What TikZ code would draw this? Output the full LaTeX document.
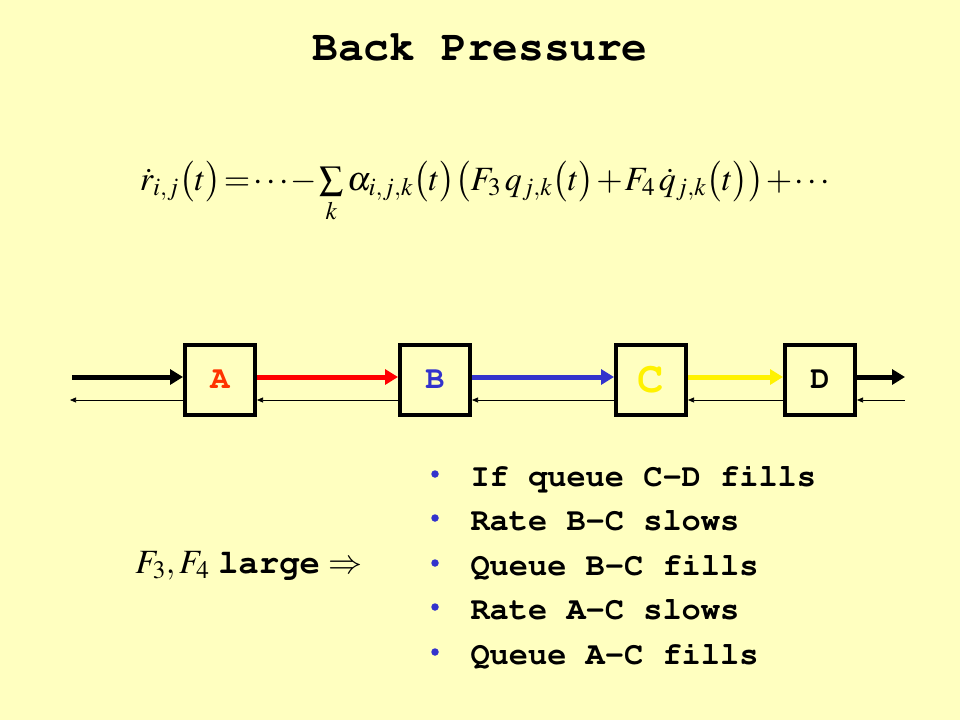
\documentclass[tikz,border=0pt]{standalone}
\usepackage{mathptmx}
\usepackage[no-math]{fontspec}
\setmainfont{Liberation Serif}
\setmonofont{Liberation Mono}
\usetikzlibrary{arrows.meta}
\definecolor{bgyellow}{RGB}{255,255,192}
\definecolor{labred}{RGB}{255,51,0}
\definecolor{labblue}{RGB}{51,51,204}
\definecolor{arrblue}{RGB}{51,51,204}
\newcommand{\courierbold}{\fontencoding{OT1}\fontfamily{pcr}\fontseries{b}\selectfont}
\begin{document}
\begin{tikzpicture}[
		x=1pt, y=-1pt,
		% Okvirji za vozlisca in puscice med njimi
		stagebox/.style={draw, line width=4pt, minimum size=70pt, inner sep=0pt,
			font=\fontsize{32}{32}\courierbold},
		flow/.style={line width=5pt, -{Triangle[length=13pt,width=15pt]}},
		backflow/.style={line width=0.7pt, -{Triangle[length=6pt,width=5pt]}},
		bulletdot/.style={circle, fill=arrblue, minimum size=7.5pt, inner sep=0pt},
		bullettext/.style={anchor=base west, font=\fontsize{32}{34}\courierbold}
		]
		\fill[bgyellow] (0,0) rectangle (960,720);
		\useasboundingbox (0,0) rectangle (960,720);
		\node[font=\fontsize{43}{46}\courierbold] (title) at (480,47) {Back Pressure};
		\node[font=\fontsize{34}{36}\selectfont] (eq) at (485,192)
			{\medmuskip=1mu \thickmuskip=1.5mu
			$\dot r_{i,j}\bigl(t\bigr) = \cdots - \sum\limits_k \alpha_{i,j,k}\bigl(t\bigr)\bigl(F_3\, q_{j,k}\bigl(t\bigr) + F_4\, \dot q_{j,k}\bigl(t\bigr)\bigr) + \cdots$};
		\node[stagebox, text=labred] (A) at (220,380) {A};
		\node[stagebox, text=labblue] (B) at (435,380) {B};
		\node[stagebox, text=yellow, font=\fontsize{44}{44}\courierbold] (C) at (651,380) {C};
		\node[stagebox] (D) at (820,380) {D};
		\coordinate (in) at (72,377);
		\coordinate (out) at (905,377);
		\coordinate (inback) at (70,400);
		\coordinate (outback) at (905,400);
		\draw[flow] (in) -- ([yshift=3pt]A.west);
		\draw[flow, red] ([yshift=3pt]A.east) -- ([yshift=3pt]B.west);
		\draw[flow, arrblue] ([yshift=3pt]B.east) -- ([yshift=3pt]C.west);
		\draw[flow, yellow] ([yshift=3pt]C.east) -- ([yshift=3pt]D.west);
		\draw[flow] ([yshift=3pt]D.east) -- (out);
		\draw[backflow] ([yshift=-20pt]A.west) -- (inback);
		\draw[backflow] ([yshift=-20pt]B.west) -- ([yshift=-20pt]A.east);
		\draw[backflow] ([yshift=-20pt]C.west) -- ([yshift=-20pt]B.east);
		\draw[backflow] ([yshift=-20pt]D.west) -- ([yshift=-20pt]C.east);
		\draw[backflow] (outback) -- ([yshift=-20pt]D.east);
		\node[font=\fontsize{34}{36}\selectfont] (large) at (249,566)
			{$F_3, F_4$ {\courierbold large} $\Rightarrow$};
		\foreach \i/\y/\txt in {1/486/If queue C-D fills, 2/530/Rate B-C slows,
			3/575/Queue B-C fills, 4/619/Rate A-C slows, 5/664/Queue A-C fills} {
			\node[bulletdot] (bul\i) at (435,\y-12) {};
			\node[bullettext] (item\i) at (467,\y) {\txt};
		}
	\end{tikzpicture}
\end{document}
